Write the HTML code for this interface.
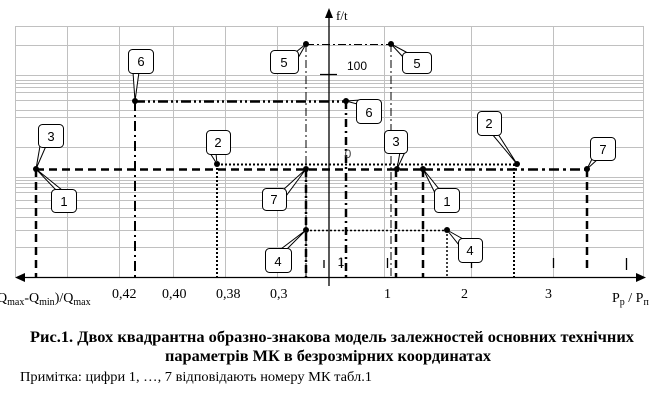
<!DOCTYPE html>
<html><head><meta charset="utf-8"><style>
html,body{margin:0;padding:0;background:#fff;}
svg{display:block;font-family:"Liberation Serif",serif;}
</style></head><body>
<svg width="668" height="407" viewBox="0 0 668 407" xmlns="http://www.w3.org/2000/svg">
<g stroke="#c0c0c0" stroke-width="1">
<path d="M15.5 26V277M67.5 26V277M119.5 26V277M173.5 26V277M225.5 26V277M277.5 26V277M384.5 26V277M471.5 26V277M553.5 26V277M643.5 26V277"/>
<path d="M15 26.5H643M15 45.5H643M15 75.5H643M15 80.5H643M15 83.5H643M15 87.5H643M15 92.5H643M15 100.5H643M15 110.5H643M15 117.5H643M15 147.5H643M15 177.5H643M15 180.5H643M15 183.5H643M15 187.5H643M15 192.5H643M15 200.5H643M15 208.5H643M15 217.5H643M15 230.5H643M15 247.5H643"/>
</g>
<g stroke="#000" stroke-width="1.3">
<path d="M22 277.5H636"/>
<path d="M329 16V286"/>
<path d="M320 74.5H337"/>
<path d="M471.5 258V268M553.5 258V268M626.5 258V270M387.5 258V268M341.5 258V268M324 260V268"/>
</g>
<polygon points="329,8 325,18 333,18" fill="#000"/>
<polygon points="15,277.5 25,273 25,282" fill="#000"/>
<polygon points="646,277.5 636,273 636,282" fill="#000"/>
<g fill="none" stroke="#000">
<path d="M306 44.5H391M306 44V277M391 44V277" stroke-width="1" stroke-dasharray="8,3,2,3"/>
<path d="M135 101.5H346" stroke-width="2.5" stroke-dasharray="10,3,2,3,2,3"/>
<path d="M135 101V277" stroke-width="2" stroke-dasharray="10,4,2,4"/>
<path d="M346 101V277" stroke-width="2.5" stroke-dasharray="8,4,2,4"/>
<path d="M217 164.5H517M217 164V277M514 164V277" stroke-width="2" stroke-dasharray="2,2"/>
<path d="M36 169.5H423M36 169V277M423 169V277M396 169V277" stroke-width="2.5" stroke-dasharray="8,5"/>
<path d="M423 169.5H587" stroke-width="2.5" stroke-dasharray="10,4,3,4"/>
<path d="M306 169V277" stroke-width="2.5" stroke-dasharray="8,3,2,3"/>
<path d="M587 169V268" stroke-width="2.5" stroke-dasharray="8,5"/>
<path d="M306 230.5H447M447 230V277" stroke-width="1.5" stroke-dasharray="2,2"/>
</g>
<g fill="#000">
<circle cx="36" cy="169" r="3"/><circle cx="135" cy="101" r="3"/><circle cx="217" cy="164" r="3"/>
<circle cx="306" cy="44" r="3"/><circle cx="306" cy="169" r="3"/><circle cx="306" cy="230" r="3"/>
<circle cx="391" cy="44" r="3"/><circle cx="346" cy="101" r="3"/><circle cx="397" cy="169" r="3"/>
<circle cx="423" cy="169" r="3"/><circle cx="517" cy="164" r="3"/><circle cx="587" cy="169" r="3"/><circle cx="447" cy="230" r="3"/>
</g>
<g fill="#fff" stroke="#000" stroke-width="1">
<polygon points="40,146 46,146 36,169"/><rect x="38.5" y="124.5" width="25" height="23" rx="4"/>
<polygon points="56,190 62,190 36,169"/><rect x="51.5" y="189.5" width="25" height="23" rx="4"/>
<polygon points="133,72 139,72 135,101"/><rect x="128.5" y="49.5" width="25" height="24" rx="4"/>
<polygon points="210,153 216,153 217,164"/><rect x="206.5" y="130.5" width="24" height="24" rx="4"/>
<polygon points="296,52 298,58 306,44"/><rect x="270.5" y="50.5" width="28" height="23" rx="4"/>
<polygon points="283,190 286,196 306,169"/><rect x="262.5" y="188.5" width="24" height="22" rx="4"/>
<polygon points="281,249 287,249 306,230"/><rect x="265.5" y="248.5" width="26" height="24" rx="4"/>
<polygon points="403,57 406,52 391,44"/><rect x="402.5" y="52.5" width="29" height="21" rx="4"/>
<polygon points="357,104 361,100 346,101"/><rect x="356.5" y="99.5" width="25" height="24" rx="4"/>
<polygon points="400,152 405,152 397,169"/><rect x="384.5" y="130.5" width="23" height="23" rx="4"/>
<polygon points="492,134 498,134 517,164"/><rect x="477.5" y="111.5" width="24" height="24" rx="4"/>
<polygon points="592,159 598,159 587,169"/><rect x="590.5" y="137.5" width="25" height="23" rx="4"/>
<polygon points="435,193 439,189 423,169"/><rect x="434.5" y="188.5" width="25" height="24" rx="4"/>
<polygon points="459,245 463,239 447,230"/><rect x="458.5" y="238.5" width="24" height="24" rx="4"/>
</g>
<g font-family="Liberation Sans,sans-serif" font-size="13" text-anchor="middle" fill="#000">
<text x="51" y="141">3</text><text x="64" y="206">1</text><text x="141" y="66">6</text><text x="218" y="147">2</text>
<text x="284" y="67">5</text><text x="274" y="204">7</text><text x="278" y="266">4</text><text x="417" y="68">5</text>
<text x="369" y="117">6</text><text x="396" y="146">3</text><text x="489" y="128">2</text><text x="603" y="154">7</text>
<text x="447" y="206">1</text><text x="470" y="255">4</text>
<text x="357" y="70" font-size="12">100</text>
<text x="348" y="158" font-size="12" fill="#444">0</text>
<text x="341" y="266" font-size="12">1</text>
</g>
<text x="336" y="20" font-size="13">f/t</text>
<g font-size="14" fill="#000">
<text x="-3" y="302" font-size="14">Q<tspan font-size="10" dy="3">max</tspan><tspan dy="-3">-Q</tspan><tspan font-size="10" dy="3">min</tspan><tspan dy="-3">)/Q</tspan><tspan font-size="10" dy="3">max</tspan></text>
<text x="112" y="298">0,42</text><text x="162" y="298">0,40</text><text x="216" y="298">0,38</text><text x="270" y="298">0,3</text>
<text x="384" y="298">1</text><text x="461" y="298">2</text><text x="545" y="298">3</text>
<text x="612" y="302">P<tspan font-size="10" dy="3">p</tspan><tspan dy="-3"> / P</tspan><tspan font-size="10" dy="3">п</tspan></text>
</g>
<g font-size="16.3" font-weight="bold">
<text x="30" y="342" textLength="604" lengthAdjust="spacingAndGlyphs">Рис.1. Двох квадрантна образно-знакова модель залежностей основних технічних</text>
<text x="165" y="361" textLength="326" lengthAdjust="spacingAndGlyphs">параметрів МК  в безрозмірних координатах</text>
</g>
<text x="20" y="381" font-size="14" textLength="352" lengthAdjust="spacingAndGlyphs">Примітка: цифри 1, …, 7 відповідають номеру МК табл.1</text>
</svg>
</body></html>
